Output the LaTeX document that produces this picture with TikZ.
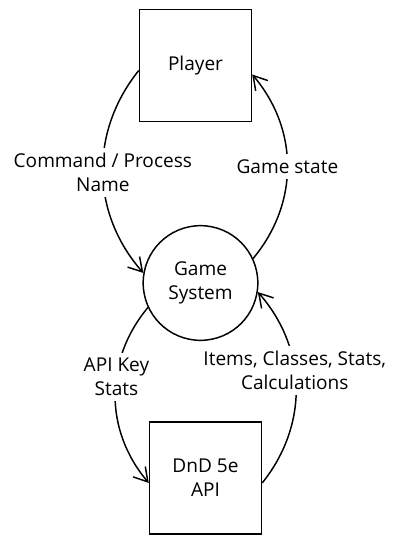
\documentclass[tikz,border=0pt]{standalone}
\usepackage{fontspec}
\setmainfont{Open Sans}
\usetikzlibrary{positioning,arrows.meta}

\begin{document}
\begin{tikzpicture}[x=0.75pt, y=-0.75pt, line width=1.1pt,
    box/.style={draw, rectangle, minimum size=84pt, inner sep=0pt, align=center,
        font=\fontsize{14.3}{18}\selectfont},
    proc/.style={draw, circle, minimum size=86pt, inner sep=0pt, align=center,
        font=\fontsize{14.3}{18}\selectfont},
    flow/.style={-{Straight Barb[length=10pt,width=12pt]}, bend right=40},
    lbl/.style={fill=white, align=center, inner sep=4pt,
        font=\fontsize{14.3}{18}\selectfont}]
\useasboundingbox (0,0) rectangle (407,543);
\node[box] (player) at (195.5,65.5) {Player};
\node[proc] (sys) at (200.5,283) {Game\\System};
\node[box] (api) at (205.5,478) {DnD 5e\\API};
\draw[flow] (player.185) to node[lbl] {Command / Process\\Name} (sys.170);
\draw[flow] (sys.25) to node[lbl] {Game state} (player.-9);
\draw[flow] (sys.205) to node[lbl, pos=0.4] {API Key\\Stats} (api.185);
\draw[flow] (api.-5) to node[lbl, pos=0.58] {Items, Classes, Stats,\\Calculations} (sys.-9);
\end{tikzpicture}
\end{document}
